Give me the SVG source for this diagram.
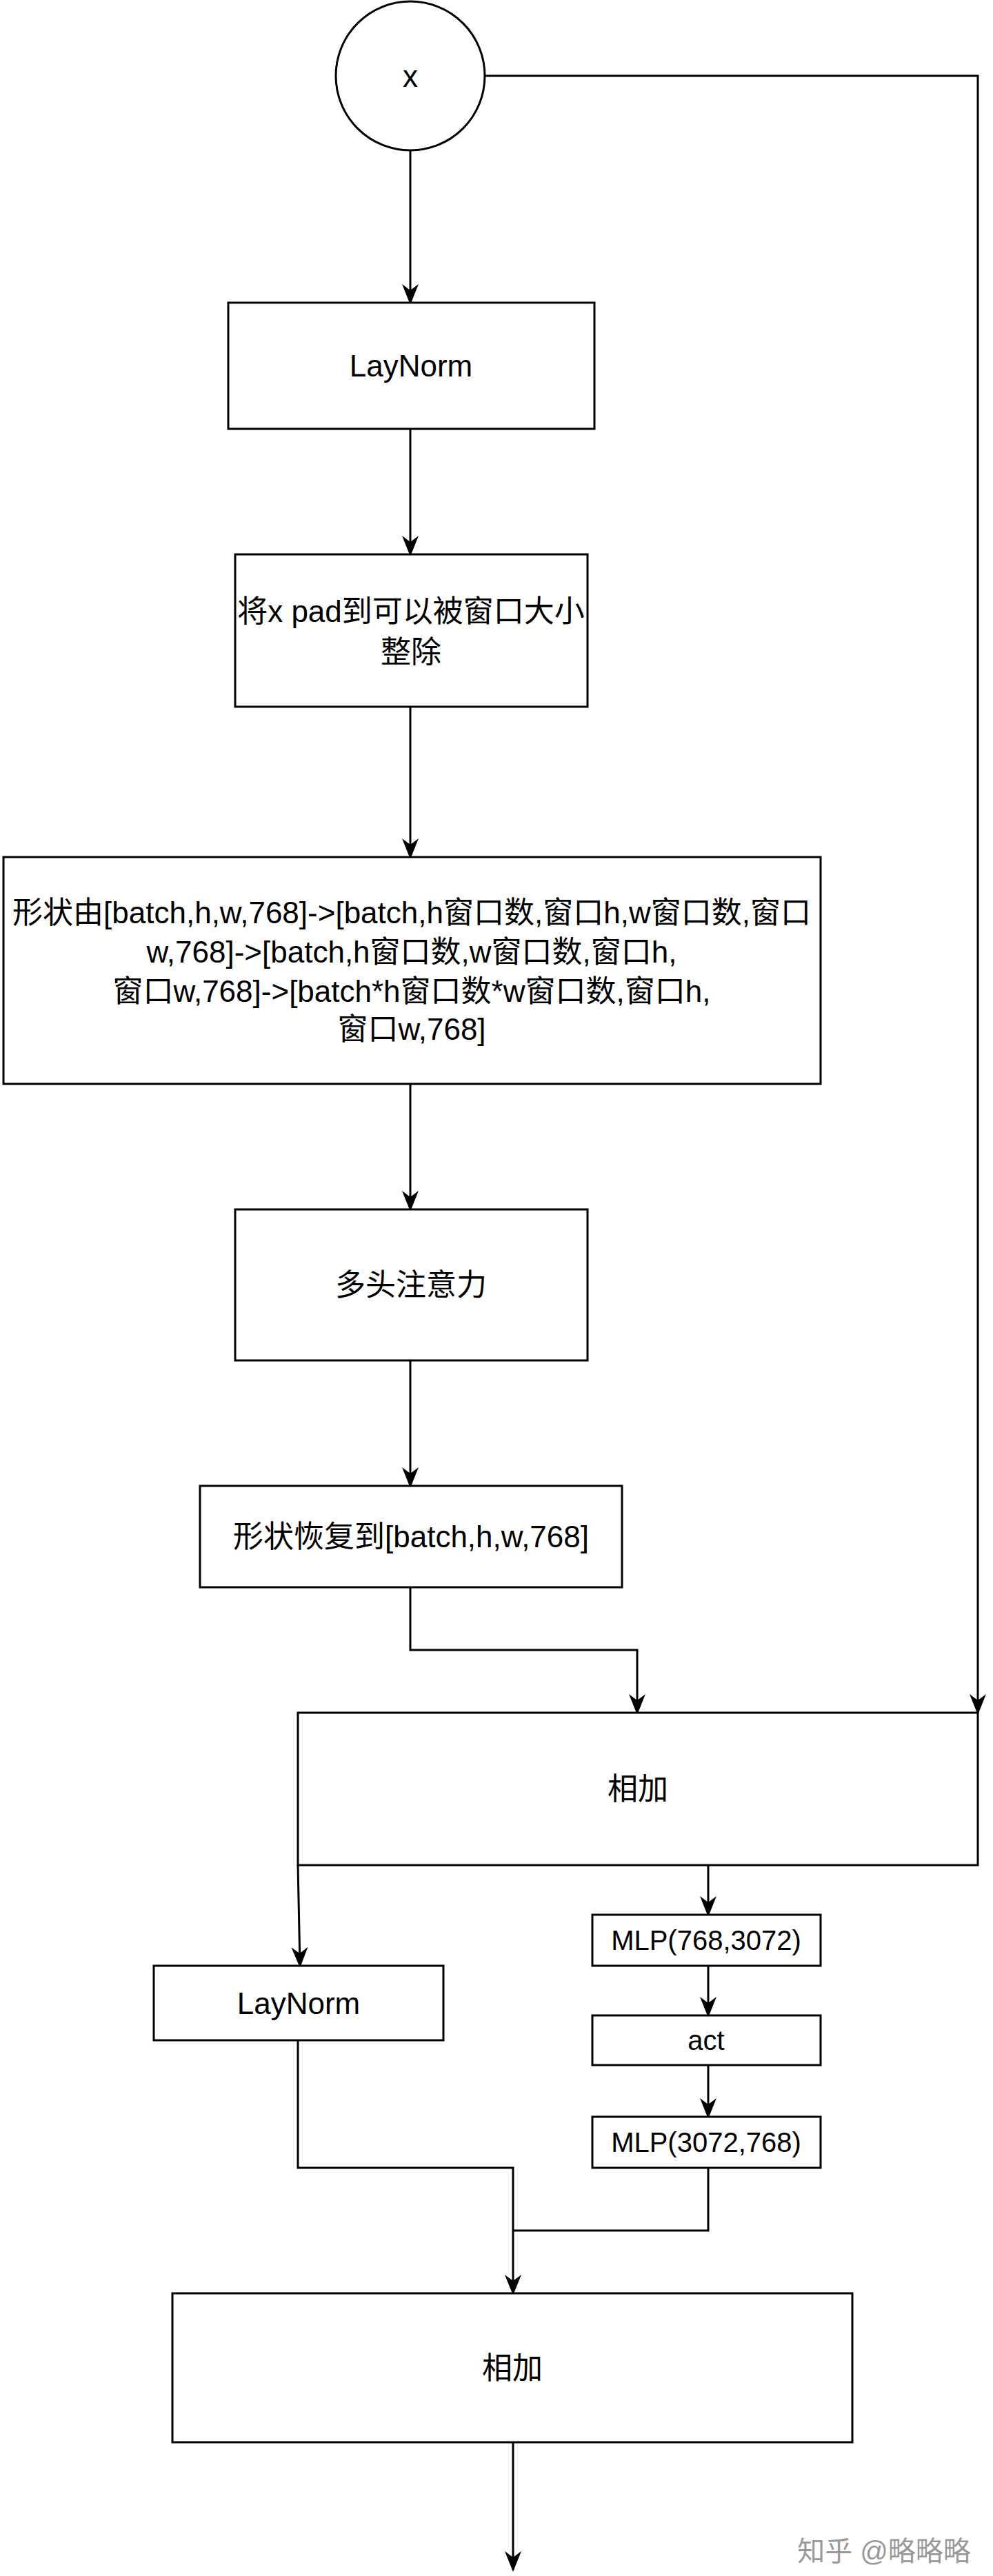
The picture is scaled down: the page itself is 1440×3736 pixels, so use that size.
<svg xmlns="http://www.w3.org/2000/svg" width="1440" height="3736" viewBox="0 0 1440 3736">
<style>
.b{fill:#fff;stroke:#000;stroke-width:3}
.t{font-family:"Liberation Sans","Noto Sans CJK SC",sans-serif;font-size:44px;fill:#000;text-anchor:middle;dominant-baseline:central}
.s{font-size:40px}
.c{fill:none;stroke:#000;stroke-width:3}
</style>
<defs>
<marker id="m" viewBox="0 0 10 10" refX="9" refY="5" markerWidth="10" markerHeight="10" orient="auto"><path d="M0,1L10,5L0,9L3,5z" fill="#000"/></marker></defs>
<rect width="1440" height="3736" fill="#fff"/>
<g id="connectors">
<path class="c" marker-end="url(#m)" d="M703,110H1418V2484"/>
<path class="c" marker-end="url(#m)" d="M595,218V439"/>
<path class="c" marker-end="url(#m)" d="M595,622V804"/>
<path class="c" marker-end="url(#m)" d="M595,1025V1243"/>
<path class="c" marker-end="url(#m)" d="M595,1572V1754"/>
<path class="c" marker-end="url(#m)" d="M595,1973V2155"/>
<path class="c" marker-end="url(#m)" d="M595,2302V2393H924V2484"/>
<path class="c" marker-end="url(#m)" d="M432,2705L435,2851"/>
<path class="c" marker-end="url(#m)" d="M1027,2705V2777"/>
<path class="c" marker-end="url(#m)" d="M1027,2851V2923"/>
<path class="c" marker-end="url(#m)" d="M1027,2995V3070"/>
<path class="c" marker-end="url(#m)" d="M432,2959V3144H744V3326"/>
<path class="c" d="M1027,3144V3235H744"/>
<path class="c" marker-end="url(#m)" d="M744,3542V3727"/>
</g>
<g id="x"><circle class="b" cx="595" cy="110" r="108"/><text class="t" x="595" y="110">x</text></g>
<g id="ln1"><rect class="b" x="331" y="439" width="531" height="183"/><text class="t" x="596" y="530">LayNorm</text></g>
<g id="pad"><rect class="b" x="341" y="804" width="511" height="221"/><text class="t" x="596" y="886">将x pad到可以被窗口大小</text><text class="t" x="596" y="945">整除</text></g>
<g id="shape"><rect class="b" x="5" y="1243" width="1185" height="329"/>
<text class="t" x="597" y="1323">形状由[batch,h,w,768]-&gt;[batch,h窗口数,窗口h,w窗口数,窗口</text>
<text class="t" x="597" y="1380">w,768]-&gt;[batch,h窗口数,w窗口数,窗口h,</text>
<text class="t" x="597" y="1437">窗口w,768]-&gt;[batch*h窗口数*w窗口数,窗口h,</text>
<text class="t" x="597" y="1492">窗口w,768]</text></g>
<g id="mha"><rect class="b" x="341" y="1754" width="511" height="219"/><text class="t" x="596" y="1863">多头注意力</text></g>
<g id="restore"><rect class="b" x="290" y="2155" width="612" height="147"/><text class="t" x="596" y="2228">形状恢复到[batch,h,w,768]</text></g>
<g id="add1"><rect class="b" x="432" y="2484" width="986" height="221"/><text class="t" x="925" y="2594">相加</text></g>
<g id="ln2"><rect class="b" x="223" y="2851" width="420" height="108"/><text class="t" x="433" y="2905">LayNorm</text></g>
<g id="mlp1"><rect class="b" x="859" y="2777" width="331" height="74"/><text class="t s" x="1024" y="2814">MLP(768,3072)</text></g>
<g id="act"><rect class="b" x="859" y="2923" width="331" height="72"/><text class="t s" x="1024" y="2959">act</text></g>
<g id="mlp2"><rect class="b" x="859" y="3070" width="331" height="74"/><text class="t s" x="1024" y="3107">MLP(3072,768)</text></g>
<g id="add2"><rect class="b" x="250" y="3326" width="986" height="216"/><text class="t" x="743" y="3434">相加</text></g>
<text class="t" x="1282" y="3700" style="fill:#999;font-size:40px">知乎 @略略略</text>
</svg>
